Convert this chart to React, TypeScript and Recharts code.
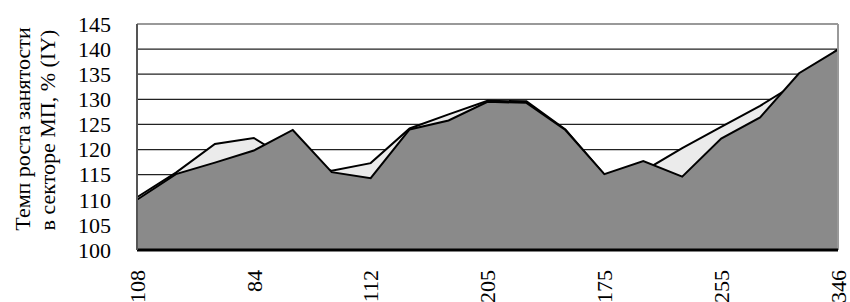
import React from "react";
import { AreaChart, Area, XAxis, YAxis, CartesianGrid, ReferenceLine } from "recharts";

const categories = ["108", "", "", "84", "", "", "112", "", "", "205", "", "", "175", "", "", "255", "", "", "346"];
const upperSeries = [110.5, 115.4, 121.1, 122.3, 117.5, 115.8, 117.3, 124.2, 127.0, 129.7, 129.6, 124.0, 115.0, 115.7, 120.3, 124.5, 128.7, 133.5, 140.0];
const lowerSeries = [110.0, 115.1, 117.4, 119.8, 123.9, 115.5, 114.3, 124.0, 125.8, 129.5, 129.3, 123.9, 115.1, 117.7, 114.6, 122.2, 126.4, 135.2, 139.9];
const yTicks = [100, 105, 110, 115, 120, 125, 130, 135, 140, 145];
const titleLines = ["Темп роста занятости", "в секторе МП, % (IY)"];

const data = categories.map((c, i) => ({ idx: i, label: c, upper: upperSeries[i], lower: lowerSeries[i] }));
const xTicks = data.filter((d) => d.label !== "").map((d) => d.idx);

const font = '"Liberation Serif", "Times New Roman", serif';

const XTick = (props: any) => {
  const { x, y, payload } = props;
  return (
    <text
      x={x}
      y={y + 12}
      transform={`rotate(-90, ${x}, ${y + 12})`}
      textAnchor="end"
      dy="0.35em"
      fontFamily={font}
      fontSize={22}
      fill="#000"
    >
      {categories[payload.value]}
    </text>
  );
};

export default function App() {
  return (
    <div style={{ position: "absolute", left: 0, top: 0, width: 850, height: 302, background: "#fff" }}>
      <AreaChart width={850} height={302} data={data} margin={{ top: 24, right: 12, bottom: 0, left: 0 }}>
        <CartesianGrid vertical={false} stroke="#222" strokeWidth={1.3} />
        <XAxis
          dataKey="idx"
          type="category"
          ticks={xTicks}
          interval={0}
          tick={<XTick />}
          tickLine={false}
          axisLine={{ stroke: "#000", strokeWidth: 3 }}
          height={52}
        />
        <YAxis
          domain={[100, 145]}
          ticks={yTicks}
          interval={0}
          width={137}
          tickLine={false}
          tickSize={0}
          tickMargin={26}
          axisLine={{ stroke: "#555", strokeWidth: 2 }}
          tick={{ fontFamily: font, fontSize: 22, fill: "#000" }}
          label={{
            content: () => (
              <g fontFamily={font} fontSize={22} fill="#000">
                <text x={30} y={129} transform="rotate(-90, 30, 129)" textAnchor="middle">{titleLines[0]}</text>
                <text x={55} y={130} transform="rotate(-90, 55, 130)" textAnchor="middle">{titleLines[1]}</text>
              </g>
            ),
          }}
        />
        <ReferenceLine y={145} stroke="#999" strokeWidth={2} />
        <ReferenceLine x={18} stroke="#999" strokeWidth={2} />
        <Area
          type="linear"
          dataKey="upper"
          stroke="#000"
          strokeWidth={2}
          fill="#ebebeb"
          fillOpacity={1}
          isAnimationActive={false}
          dot={false}
          activeDot={false}
        />
        <Area
          type="linear"
          dataKey="lower"
          stroke="#000"
          strokeWidth={2}
          fill="#8a8a8a"
          fillOpacity={1}
          isAnimationActive={false}
          dot={false}
          activeDot={false}
        />
      </AreaChart>
    </div>
  );
}
